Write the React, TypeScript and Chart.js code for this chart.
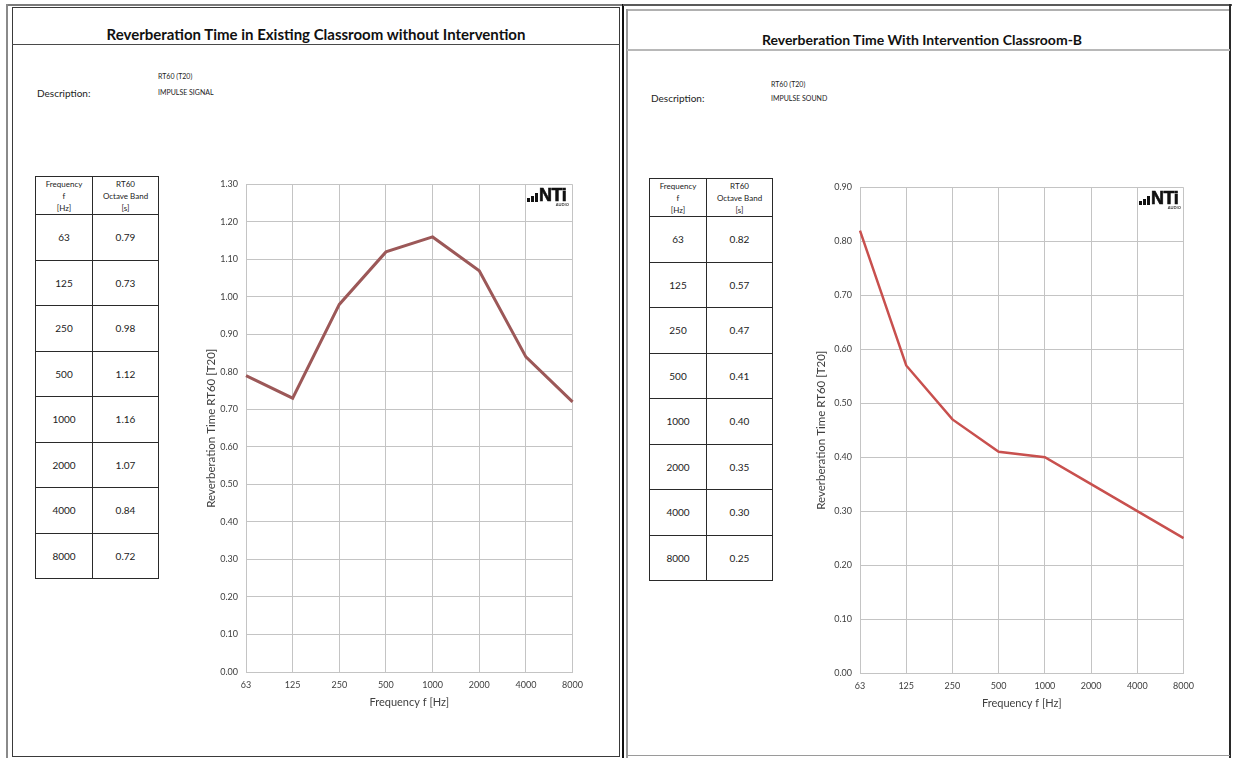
import React, { useEffect, useRef } from "react";
import { Chart, registerables } from "chart.js";

Chart.register(...registerables);

const FONT = 'Lato, "Open Sans", sans-serif';

// Octave-band centre frequencies (Hz)
const frequencies = ["63", "125", "250", "500", "1000", "2000", "4000", "8000"];

// RT60 (T20) in seconds, existing classroom without intervention
const rt60Before = [0.79, 0.73, 0.98, 1.12, 1.16, 1.07, 0.84, 0.72];
// RT60 (T20) in seconds, classroom B with intervention
const rt60After = [0.82, 0.57, 0.47, 0.41, 0.4, 0.35, 0.3, 0.25];

// Value-axis tick positions
const yTicksBefore = [0, 0.1, 0.2, 0.3, 0.4, 0.5, 0.6, 0.7, 0.8, 0.9, 1.0, 1.1, 1.2, 1.3];
const yTicksAfter = [0, 0.1, 0.2, 0.3, 0.4, 0.5, 0.6, 0.7, 0.8, 0.9];

type Box = { left: number; top: number; width: number; height: number };

function RtChart(props: {
  box: Box;
  values: number[];
  yTicks: number[];
  color: string;
  lineWidth: number;
  titlePad: number;
  yAxisWidth: number;
}) {
  const ref = useRef<HTMLCanvasElement | null>(null);
  useEffect(() => {
    if (!ref.current) return;
    const ticks = props.yTicks;
    const chart = new Chart(ref.current, {
      type: "line",
      data: {
        labels: frequencies,
        datasets: [
          {
            data: props.values,
            borderColor: props.color,
            borderWidth: props.lineWidth,
            pointRadius: 0,
            tension: 0,
            fill: false,
          },
        ],
      },
      options: {
        animation: false,
        responsive: false,
        maintainAspectRatio: false,
        layout: { padding: { top: 0, right: 0, left: 0, bottom: 0 } },
        plugins: { legend: { display: false }, tooltip: { enabled: false } },
        scales: {
          x: {
            type: "category",
            offset: false,
            grid: { color: "#c4c4c4", lineWidth: 1, drawTicks: false },
            border: { color: "#c4c4c4" },
            ticks: {
              color: "#404040",
              font: { family: FONT, size: 9 },
              padding: 8,
              maxRotation: 0,
              autoSkip: false,
            },
            title: {
              display: true,
              text: "Frequency f [Hz]",
              color: "#404040",
              font: { family: FONT, size: 11 },
              padding: { top: 0, bottom: 5 },
            },
            afterFit: (s: any) => {
              s.height = 42;
            },
          },
          y: {
            type: "linear",
            min: ticks[0],
            max: ticks[ticks.length - 1],
            grid: { color: "#c4c4c4", lineWidth: 1, drawTicks: false },
            border: { color: "#c4c4c4" },
            ticks: {
              color: "#404040",
              font: { family: FONT, size: 9 },
              padding: 8,
              callback: (v: any) => Number(v).toFixed(2),
            },
            afterBuildTicks: (s: any) => {
              s.ticks = ticks.map((v) => ({ value: v }));
            },
            title: {
              display: true,
              text: "Reverberation Time RT60 [T20]",
              color: "#404040",
              font: { family: FONT, size: 11.5 },
              padding: { top: props.titlePad, bottom: 0 },
            },
            afterFit: (s: any) => {
              s.width = props.yAxisWidth;
            },
          },
        },
      },
    });
    return () => chart.destroy();
  }, []);
  const b = props.box;
  return (
    <canvas
      ref={ref}
      width={b.width}
      height={b.height}
      style={{ position: "absolute", left: b.left, top: b.top, width: b.width, height: b.height }}
    />
  );
}

function RtTable(props: { left: number; top: number; values: number[] }) {
  const colW = [56, 65];
  const headH = 38;
  const rowH = 45.5;
  const cell: React.CSSProperties = {
    border: "1px solid #2a2a2a",
    padding: 0,
    textAlign: "center",
    color: "#222",
  };
  return (
    <table
      style={{
        position: "absolute",
        left: props.left,
        top: props.top,
        borderCollapse: "collapse",
        tableLayout: "fixed",
        width: colW[0] + colW[1],
        fontFamily: FONT,
      }}
    >
      <tbody>
        <tr style={{ height: headH }}>
          <td style={{ ...cell, width: colW[0], fontSize: 8, lineHeight: "12px", verticalAlign: "top", paddingTop: 1 }}>
            Frequency<br />f<br />[Hz]
          </td>
          <td style={{ ...cell, width: colW[1], fontSize: 8, lineHeight: "12px", verticalAlign: "top", paddingTop: 1 }}>
            RT60<br />Octave Band<br />[s]
          </td>
        </tr>
        {frequencies.map((f, i) => (
          <tr key={f} style={{ height: rowH }}>
            <td style={{ ...cell, fontSize: 10 }}>{f}</td>
            <td style={{ ...cell, fontSize: 10 }}>{props.values[i].toFixed(2)}</td>
          </tr>
        ))}
      </tbody>
    </table>
  );
}

function NtiLogo(props: { left: number; top: number }) {
  const bar = (h: number): React.CSSProperties => ({
    width: 3,
    height: h,
    background: "#111",
    marginRight: 1,
  });
  return (
    <div style={{ position: "absolute", left: props.left, top: props.top, width: 42 }}>
      <div style={{ display: "flex", alignItems: "flex-end", height: 14 }}>
        <div style={bar(4)} />
        <div style={bar(6)} />
        <div style={{ ...bar(9), marginRight: 1 }} />
        <span
          style={{
            fontFamily: '"Liberation Sans", Arial, sans-serif',
            fontWeight: 900,
            fontSize: 18,
            lineHeight: "14px",
            letterSpacing: -0.5,
            color: "#111",
            WebkitTextStroke: "0.6px #111",
          }}
        >
          NTi
        </span>
      </div>
      <div style={{ fontSize: 4, lineHeight: "6px", textAlign: "right", color: "#333", fontFamily: FONT, fontWeight: 700 }}>
        AUDIO
      </div>
    </div>
  );
}

function Text(props: { x: number; y: number; size: number; children: React.ReactNode; bold?: boolean; color?: string }) {
  return (
    <div
      style={{
        position: "absolute",
        left: props.x,
        top: props.y - props.size * 0.7,
        fontSize: props.size,
        lineHeight: `${props.size * 1.4}px`,
        fontWeight: props.bold ? 700 : 400,
        color: props.color || "#222",
        whiteSpace: "nowrap",
        fontFamily: FONT,
      }}
    >
      {props.children}
    </div>
  );
}

const line = (l: number, t: number, w: number, h: number, c: string): React.CSSProperties => ({
  position: "absolute",
  left: l,
  top: t,
  width: w,
  height: h,
  background: c,
});

export default function App() {
  return (
    <div
      style={{
        position: "absolute",
        left: 0,
        top: 0,
        width: 1234,
        height: 758,
        background: "#fff",
        overflow: "hidden",
        fontFamily: FONT,
      }}
    >
      {/* left sheet frame */}
      <div style={line(6, 4, 617, 2, "#7a7a7a")} />
      <div style={line(6, 4, 2, 754, "#8a8a8a")} />
      <div
        style={{
          position: "absolute",
          left: 12,
          top: 7,
          width: 608,
          height: 750,
          border: "1px solid #3a3a3a",
          boxSizing: "border-box",
        }}
      />
      <div style={line(12, 44, 608, 1, "#4a4a4a")} />
      {/* centre separator */}
      <div style={line(622, 4, 2, 754, "#111")} />
      {/* right sheet frame */}
      <div style={line(623, 4, 609, 2, "#5a5a5a")} />
      <div style={line(627, 9, 603, 2, "#b0b0b0")} />
      <div style={line(626, 9, 2, 749, "#9a9a9a")} />
      <div style={line(1229, 4, 2, 754, "#2a2a2a")} />
      <div style={line(627, 49, 603, 2, "#b8b8b8")} />
      <div style={line(627, 755, 603, 1, "#9a9a9a")} />

      {/* left sheet */}
      <div
        style={{
          position: "absolute",
          left: 12,
          width: 608,
          top: 25,
          textAlign: "center",
          fontSize: 15,
          fontWeight: 700,
          lineHeight: "18px",
          color: "#111",
        }}
      >
        Reverberation Time in Existing Classroom without Intervention
      </div>
      <Text x={37} y={93} size={10}>Description:</Text>
      <Text x={158} y={77} size={7}>RT60 (T20)</Text>
      <Text x={158} y={93} size={7}>IMPULSE SIGNAL</Text>
      <RtTable left={35} top={176} values={rt60Before} />
      <RtChart
        box={{ left: 196, top: 171, width: 395, height: 543 }}
        values={rt60Before}
        yTicks={yTicksBefore}
        color="#9c5858"
        lineWidth={3}
        titlePad={8}
        yAxisWidth={50}
      />
      <NtiLogo left={527} top={188} />

      {/* right sheet */}
      <div
        style={{
          position: "absolute",
          left: 627,
          width: 590,
          top: 31,
          textAlign: "center",
          fontSize: 14,
          fontWeight: 700,
          lineHeight: "18px",
          color: "#111",
        }}
      >
        Reverberation Time With Intervention Classroom-B
      </div>
      <Text x={651} y={98} size={10}>Description:</Text>
      <Text x={771} y={85} size={7}>RT60 (T20)</Text>
      <Text x={771} y={99} size={7}>IMPULSE SOUND</Text>
      <RtTable left={649} top={178} values={rt60After} />
      <RtChart
        box={{ left: 808, top: 174, width: 394, height: 541 }}
        values={rt60After}
        yTicks={yTicksAfter}
        color="#c8504e"
        lineWidth={2.5}
        titlePad={6}
        yAxisWidth={52}
      />
      <NtiLogo left={1139} top={191} />
    </div>
  );
}
